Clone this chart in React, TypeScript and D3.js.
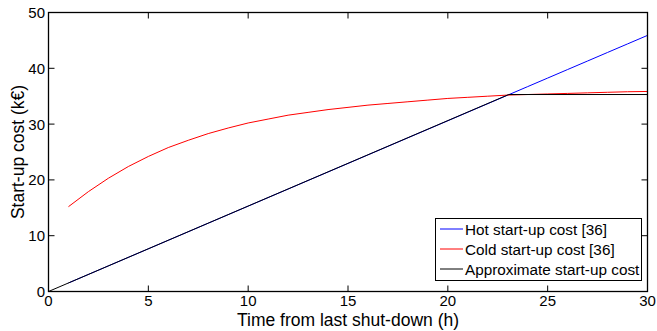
import React from "react";
import * as d3 from "d3";

// Hours since last shut-down
const hours: number[] = [1,2,3,4,5,6,7,8,9,10,11,12,13,14,15,16,17,18,19,20,21,22,23,24,25,26,27,28,29,30];
// Hot start-up cost [36] (k€)
const hotCost: number[] = [1.53,3.06,4.59,6.12,7.65,9.18,10.71,12.24,13.77,15.3,16.83,18.36,19.89,21.42,22.95,24.48,26.01,27.54,29.07,30.6,32.13,33.66,35.19,36.72,38.25,39.78,41.31,42.84,44.37,45.9];
// Cold start-up cost [36] (k€)
const coldCost: number[] = [15.2,17.9,20.3,22.4,24.2,25.8,27.1,28.3,29.3,30.2,30.9,31.6,32.1,32.6,33.0,33.4,33.7,34.0,34.3,34.6,34.8,35.0,35.2,35.3,35.4,35.5,35.6,35.7,35.8,35.85];
// Approximate start-up cost: linear ramp then flat
const approxT: number[] = [0, 23.05, 30];
const approxCost: number[] = [0, 35.3, 35.3];

const xTicks: number[] = [0, 5, 10, 15, 20, 25, 30];
const yTicks: number[] = [0, 10, 20, 30, 40, 50];

const legendItems = [
  { label: "Hot start-up cost [36]", color: "#0000ff" },
  { label: "Cold start-up cost [36]", color: "#ff0000" },
  { label: "Approximate start-up cost", color: "#000000" },
];

const W = 657, H = 331;
const left = 48.5, right = 647.5, top = 12.5, bottom = 291.5;
const font = "'Liberation Sans', Arial, Helvetica, sans-serif";

export default function App() {
  const x = d3.scaleLinear().domain([0, 30]).range([left, right]);
  const y = d3.scaleLinear().domain([0, 50]).range([bottom, top]);
  const line = d3.line<[number, number]>().x(d => x(d[0])).y(d => y(d[1]));

  const hotPts = hours.map((t, i) => [t, hotCost[i]] as [number, number]);
  const coldPts = hours.map((t, i) => [t, coldCost[i]] as [number, number]);
  const apxPts = approxT.map((t, i) => [t, approxCost[i]] as [number, number]);

  const tickLen = 6;
  const lg = { x0: 435.5, x1: 641.5, y0: 218.5, y1: 280.5 };

  return (
    <svg width={W} height={H} style={{ position: "absolute", left: 0, top: 0, background: "#fff" }}
      fontFamily={font}>
      <rect x={0} y={0} width={W} height={H} fill="#fff" />
      <path d={line(hotPts) || ""} fill="none" stroke="#0000ff" strokeWidth={1} />
      <path d={line(coldPts) || ""} fill="none" stroke="#ff0000" strokeWidth={1} />
      <path d={line(apxPts) || ""} fill="none" stroke="#000" strokeWidth={1} />

      {/* axes box */}
      <rect x={left} y={top} width={right - left} height={bottom - top} fill="none" stroke="#000" strokeWidth={1.3} />
      {xTicks.map(t => (
        <g key={"xt" + t}>
          <line x1={x(t)} x2={x(t)} y1={bottom} y2={bottom - tickLen} stroke="#000" />
          <line x1={x(t)} x2={x(t)} y1={top} y2={top + tickLen} stroke="#000" />
          <text x={x(t)} y={306} textAnchor="middle" fontSize={15} fill="#000">{t}</text>
        </g>
      ))}
      {yTicks.map(v => (
        <g key={"yt" + v}>
          <line x1={left} x2={left + tickLen} y1={y(v)} y2={y(v)} stroke="#000" />
          <line x1={right} x2={right - tickLen} y1={y(v)} y2={y(v)} stroke="#000" />
          <text x={45} y={y(v) + 5.5} textAnchor="end" fontSize={15} fill="#000">{v}</text>
        </g>
      ))}
      <text x={(left + right) / 2} y={326} textAnchor="middle" fontSize={17.5} fill="#000">
        Time from last shut-down (h)
      </text>
      <text transform={`translate(24,${(top + bottom) / 2}) rotate(-90)`} textAnchor="middle" fontSize={17.5} fill="#000">
        Start-up cost (k€)
      </text>

      {/* legend */}
      <rect x={lg.x0} y={lg.y0} width={lg.x1 - lg.x0} height={lg.y1 - lg.y0} fill="#fff" stroke="#000" strokeWidth={1} />
      {legendItems.map((it, i) => {
        const cy = 229 + i * 20;
        return (
          <g key={it.label}>
            <line x1={440} x2={463} y1={cy} y2={cy} stroke={it.color} strokeWidth={1} />
            <text x={465} y={cy + 5.5} fontSize={15.3} fill="#000">{it.label}</text>
          </g>
        );
      })}
    </svg>
  );
}
